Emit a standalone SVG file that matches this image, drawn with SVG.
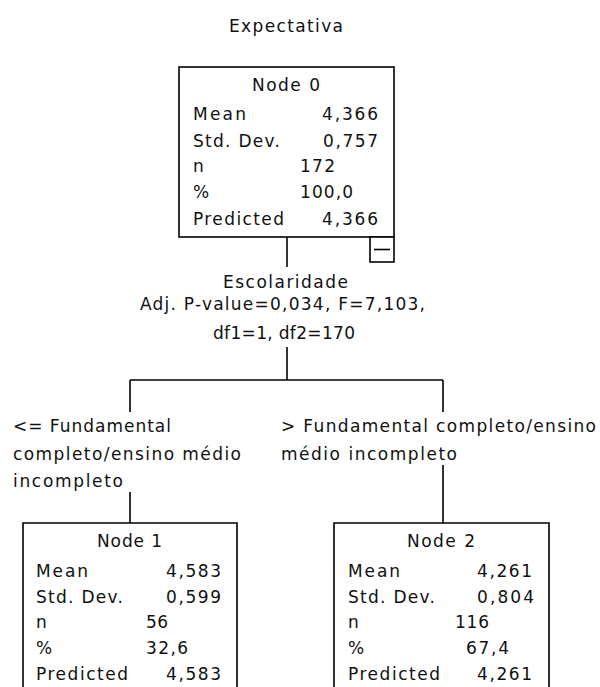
<svg xmlns="http://www.w3.org/2000/svg" width="600" height="687" viewBox="0 0 600 687">
<style>
.t{font-family:"DejaVu Sans","Liberation Sans",Arial,sans-serif;font-size:17px;fill:#111}
.ln{stroke:#000;stroke-width:1.6;fill:none}
.box{stroke:#000;stroke-width:1.6;fill:#fff}
</style>
<rect width="600" height="687" fill="#fff"/>
<text class="t" x="229" y="32" textLength="114" lengthAdjust="spacing">Expectativa</text>

<g id="connectors">
<line class="ln" x1="287" y1="237" x2="287" y2="267"/>
<line class="ln" x1="287" y1="347" x2="287" y2="380"/>
<line class="ln" x1="130" y1="380" x2="443" y2="380"/>
<line class="ln" x1="130" y1="380" x2="130" y2="412"/>
<line class="ln" x1="443" y1="380" x2="443" y2="412"/>
<line class="ln" x1="130" y1="492" x2="130" y2="523"/>
<line class="ln" x1="443" y1="465" x2="443" y2="523"/>
</g>

<g id="split">
<text class="t" x="223" y="288" textLength="125" lengthAdjust="spacing">Escolaridade</text>
<text class="t" x="140" y="310" textLength="285" lengthAdjust="spacing">Adj. P-value=0,034, F=7,103,</text>
<text class="t" x="213" y="339" textLength="142" lengthAdjust="spacing">df1=1, df2=170</text>
</g>

<g id="label-left">
<text class="t" x="13" y="432" textLength="158" lengthAdjust="spacing">&lt;= Fundamental</text>
<text class="t" x="13" y="460" textLength="228" lengthAdjust="spacing">completo/ensino médio</text>
<text class="t" x="13" y="487" textLength="110" lengthAdjust="spacing">incompleto</text>
</g>

<g id="label-right">
<text class="t" x="281" y="432" textLength="315" lengthAdjust="spacing">&gt; Fundamental completo/ensino</text>
<text class="t" x="281" y="460" textLength="176" lengthAdjust="spacing">médio incompleto</text>
</g>

<g id="node0">
<rect class="box" x="179" y="67" width="215" height="170"/>
<text class="t" x="252" y="91" textLength="68" lengthAdjust="spacing">Node 0</text>
<text class="t" x="193" y="120" textLength="53" lengthAdjust="spacing">Mean</text>
<text class="t" x="322" y="120" textLength="56" lengthAdjust="spacing">4,366</text>
<text class="t" x="193" y="147" textLength="87" lengthAdjust="spacing">Std. Dev.</text>
<text class="t" x="323" y="147" textLength="55" lengthAdjust="spacing">0,757</text>
<text class="t" x="193" y="172">n</text>
<text class="t" x="300" y="172" textLength="35" lengthAdjust="spacing">172</text>
<text class="t" x="193" y="198">%</text>
<text class="t" x="300" y="198" textLength="53" lengthAdjust="spacing">100,0</text>
<text class="t" x="193" y="225" textLength="91" lengthAdjust="spacing">Predicted</text>
<text class="t" x="322" y="225" textLength="56" lengthAdjust="spacing">4,366</text>
<rect class="box" x="370" y="237" width="24" height="25"/>
<line class="ln" x1="374" y1="249.5" x2="390" y2="249.5" stroke-width="2"/>
</g>

<g id="node1">
<path class="box" d="M23 700 V523 H237 V700"/>
<text class="t" x="97" y="547" textLength="65" lengthAdjust="spacing">Node 1</text>
<text class="t" x="36" y="577" textLength="52" lengthAdjust="spacing">Mean</text>
<text class="t" x="166" y="577" textLength="55" lengthAdjust="spacing">4,583</text>
<text class="t" x="36" y="603" textLength="87" lengthAdjust="spacing">Std. Dev.</text>
<text class="t" x="166" y="603" textLength="55" lengthAdjust="spacing">0,599</text>
<text class="t" x="36" y="628">n</text>
<text class="t" x="146" y="628" textLength="22" lengthAdjust="spacing">56</text>
<text class="t" x="36" y="654">%</text>
<text class="t" x="146" y="654" textLength="42" lengthAdjust="spacing">32,6</text>
<text class="t" x="36" y="680" textLength="92" lengthAdjust="spacing">Predicted</text>
<text class="t" x="166" y="680" textLength="55" lengthAdjust="spacing">4,583</text>
</g>

<g id="node2">
<path class="box" d="M334 700 V523 H549 V700"/>
<text class="t" x="407" y="547" textLength="68" lengthAdjust="spacing">Node 2</text>
<text class="t" x="348" y="577" textLength="52" lengthAdjust="spacing">Mean</text>
<text class="t" x="477" y="577" textLength="55" lengthAdjust="spacing">4,261</text>
<text class="t" x="348" y="603" textLength="87" lengthAdjust="spacing">Std. Dev.</text>
<text class="t" x="477" y="603" textLength="57" lengthAdjust="spacing">0,804</text>
<text class="t" x="348" y="628">n</text>
<text class="t" x="455" y="628" textLength="34" lengthAdjust="spacing">116</text>
<text class="t" x="348" y="654">%</text>
<text class="t" x="466" y="654" textLength="43" lengthAdjust="spacing">67,4</text>
<text class="t" x="348" y="680" textLength="92" lengthAdjust="spacing">Predicted</text>
<text class="t" x="477" y="680" textLength="55" lengthAdjust="spacing">4,261</text>
</g>
</svg>
